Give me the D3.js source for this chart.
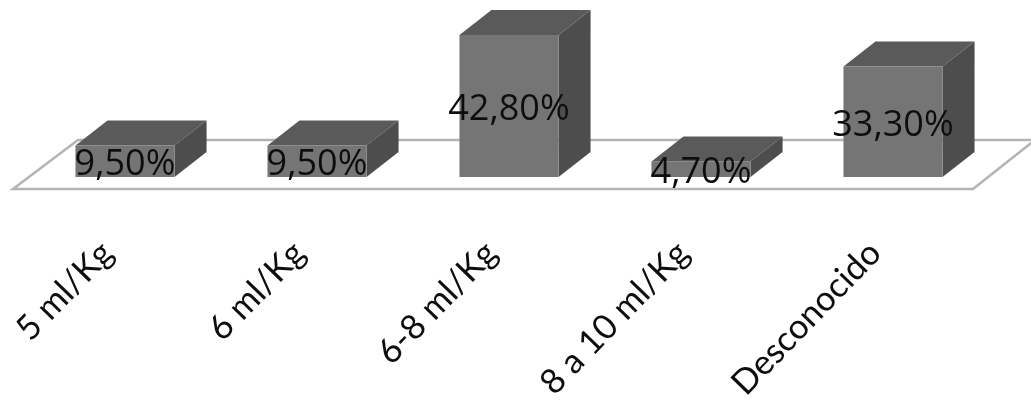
<!DOCTYPE html>
<html>
<head>
<meta charset="utf-8">
<script src="https://cdn.jsdelivr.net/npm/d3@7"></script>
<style>
  html, body { margin: 0; padding: 0; background: #fff; overflow: hidden; }
  svg { display: block; }
</style>
</head>
<body>
<svg id="chart" width="1031" height="404"></svg>
<script>
const width = 1031, height = 404;

const categories = ["5 ml/Kg", "6 ml/Kg", "6-8 ml/Kg", "8 a 10 ml/Kg", "Desconocido"];
const values = [9.5, 9.5, 42.8, 4.7, 33.3];
const valueLabels = ["9,50%", "9,50%", "42,80%", "4,70%", "33,30%"];

const depthX = 32, depthY = 25;
const baseY = 177;

const x = d3.scaleBand()
  .domain(categories)
  .range([29, 989])
  .paddingInner(0.484)
  .paddingOuter(0.242);

const y = d3.scaleLinear().domain([0, 42.8]).range([baseY, 35]);

const svg = d3.select("#chart");

svg.append("defs").append("filter").attr("id", "soft")
  .append("feGaussianBlur").attr("stdDeviation", 0.5);

const chart = svg.append("g").attr("filter", "url(#soft)");

// floor of the 3d plot
chart.append("path")
  .attr("d", "M1031,140 L78,140 L13,189 L973,189 L1031,143")
  .attr("fill", "none")
  .attr("stroke", "#b4b4b4")
  .attr("stroke-width", 2.5);

const rows = categories.map((c, i) => ({ c, v: values[i], label: valueLabels[i] }));

const bars = chart.selectAll(".bar")
  .data(rows)
  .enter().append("g")
  .attr("class", "bar");

// top face
bars.append("polygon")
  .attr("fill", "#5a5a5a")
  .attr("points", d => {
    const l = x(d.c), r = l + x.bandwidth(), t = y(d.v);
    return [[l, t], [l + depthX, t - depthY], [r + depthX, t - depthY], [r, t]].join(" ");
  });

// side face
bars.append("polygon")
  .attr("fill", "#4d4d4d")
  .attr("points", d => {
    const r = x(d.c) + x.bandwidth(), t = y(d.v);
    return [[r, t], [r + depthX, t - depthY], [r + depthX, baseY - depthY], [r, baseY]].join(" ");
  });

// front face
bars.append("rect")
  .attr("fill", "#757575")
  .attr("x", d => x(d.c))
  .attr("y", d => y(d.v))
  .attr("width", x.bandwidth())
  .attr("height", d => baseY - y(d.v));

chart.selectAll(".value")
  .data(rows)
  .enter().append("text")
  .attr("class", "value")
  .attr("x", d => x(d.c) + x.bandwidth() / 2)
  .attr("y", d => (y(d.v) + baseY) / 2 + 14)
  .attr("text-anchor", "middle")
  .attr("font-family", "'Open Sans'")
  .attr("font-size", 36)
  .attr("fill", "#111")
  .text(d => d.label);

// category labels, rotated
const axis = d3.axisBottom(x).tickSize(0);
const axisG = chart.append("g")
  .attr("transform", "translate(0,240)")
  .call(axis);
axisG.select(".domain").remove();
axisG.selectAll("text")
  .attr("font-family", "Lato")
  .attr("font-size", 34.5)
  .attr("fill", "#111")
  .attr("text-anchor", "end")
  .attr("x", 0)
  .attr("y", 0)
  .attr("dy", 0)
  .attr("transform", "translate(-10,15) rotate(-46)");
</script>
</body>
</html>
